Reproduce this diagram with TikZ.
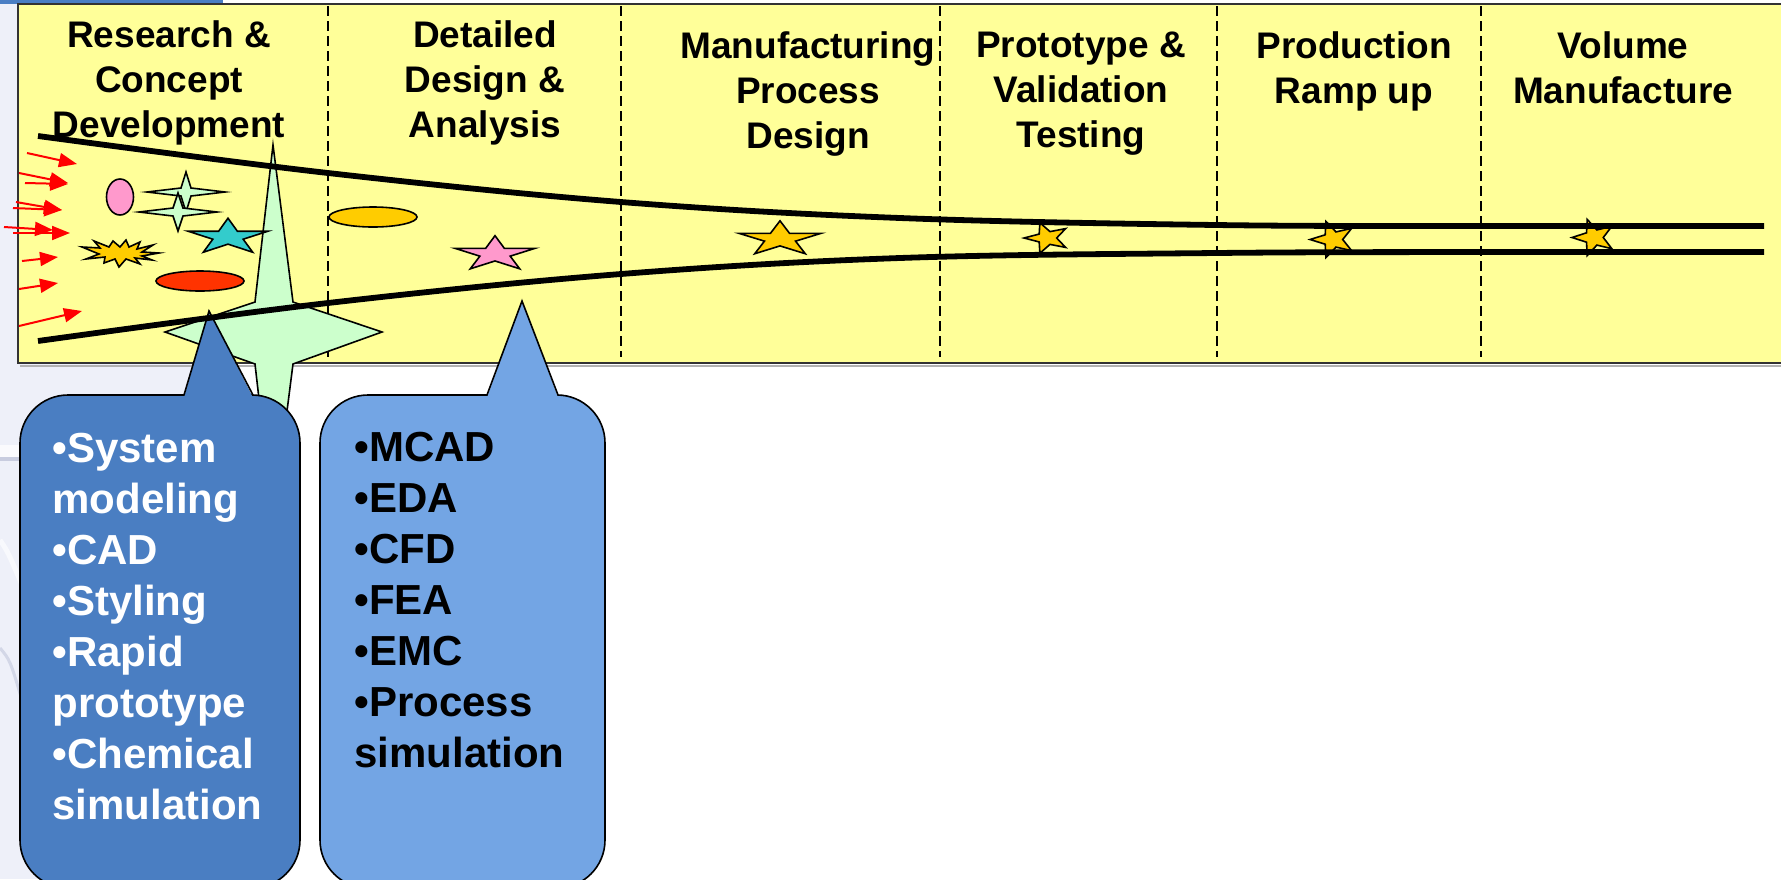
\documentclass[tikz,border=0pt]{standalone}
\usepackage{fontspec}
\setmainfont{Liberation Sans}
\usetikzlibrary{arrows.meta}
\definecolor{paneyellow}{HTML}{FFFF99}
\definecolor{slidebg}{HTML}{EEF0F9}
\definecolor{slidebar}{HTML}{4A7EC4}
\definecolor{swooshgray}{HTML}{C8CCDF}
\definecolor{callonefill}{RGB}{74,126,194}
\definecolor{calltwofill}{RGB}{115,165,228}
\definecolor{mint}{HTML}{CCFFCC}
\definecolor{pinkish}{HTML}{FF99CC}
\definecolor{tealstar}{HTML}{33CCCC}
\definecolor{goldish}{HTML}{FFCC00}
\definecolor{redorange}{HTML}{FF3300}
\newcommand\fivestar[6]{%
  \draw[#6, shift={(#1)}, rotate=#4] plot[samples at={0,...,9}, variable=\k]
   ({#2*(1-(1-#5)*mod(\k,2))*cos(-90+36*\k)}, {#3*(1-(1-#5)*mod(\k,2))*sin(-90+36*\k)}) -- cycle;}
\newcommand\fourstar[6]{%
  \draw[#6, shift={(#1)}] (0,-#3) -- (#4,-#5) -- (#2,0) -- (#4,#5) -- (0,#3) -- (-#4,#5) -- (-#2,0) -- (-#4,-#5) -- cycle;}
\begin{document}
\begin{tikzpicture}[x=0.5pt,y=-0.5pt,
  hdr/.style={font=\fontsize{18.5}{22.5}\selectfont\bfseries, align=center, anchor=north, inner sep=0pt},
  calltxt/.style={font=\fontsize{21}{25.5}\selectfont\bfseries, align=left, anchor=north west, inner sep=0pt},
  shapeline/.style={draw=black, line width=0.8pt, line join=miter},
  divider/.style={draw=black, line width=0.75pt, dash pattern=on 5pt off 2.5pt},
  funnel/.style={draw=black, line width=2.9pt},
  redarrow/.style={draw=red, line width=1pt, -{Triangle[length=9pt,width=7pt]}},
  callout/.style={draw=black, line width=0.8pt, rounded corners=24pt}]
\useasboundingbox (0,0) rectangle (1781,879);
\clip (0,0) rectangle (1781,879);
% slide background
\fill[white] (0,0) rectangle (1781,879);
\fill[slidebg] (0,0) rectangle (223,879);
\fill[slidebar] (0,0) rectangle (223,3.5);
\fill[white!70!slidebg] (0,445) rectangle (223,457);
\fill[swooshgray] (0,457) rectangle (223,461);
\draw[white!60!slidebg, line width=2.5pt] (0,540) .. controls (8,552) .. (22,585);
\draw[swooshgray!70!slidebg, line width=1.5pt] (0,648) .. controls (10,660) .. (22,700);
% yellow pane
\draw[gray!60, line width=1pt] (20,365.5) -- (1781,365.5);
\draw[fill=paneyellow, draw=black!80, line width=0.8pt] (18,4) rectangle (1800,363);
% dividers
\foreach \xd/\nm in {328/da,621/db,940/dc,1217/dd,1481/de}{
  \coordinate (\nm t) at (\xd,6);
  \coordinate (\nm b) at (\xd,357);
  \draw[divider] (\nm t) -- (\nm b);
}
% small shapes in the research phase
\draw[shapeline, fill=pinkish] (120,197) ellipse [x radius=13.5, y radius=18];
\fourstar{186,192}{39}{20}{5}{4}{shapeline, fill=mint}
\fourstar{178,212}{39}{19}{5}{4}{shapeline, fill=mint}
\draw[shapeline, fill=goldish, shift={(120,253)}] (-38,-6) -- (-20,-5) -- (-26,-12) -- (-11,-6) -- (-7,-12) -- (0,-6) -- (6,-13) -- (9,-6) -- (20,-11) -- (17,-4) -- (33,-8) -- (22,-1) -- (39,0) -- (22,3) -- (32,7) -- (15,5) -- (20,11) -- (6,6) -- (-1,14) -- (-5,6) -- (-16,10) -- (-15,4) -- (-34,6) -- (-21,1) -- cycle;
\draw[shapeline, fill=redorange] (200,281) ellipse [x radius=44, y radius=10];
\draw[shapeline, fill=goldish] (373,217) ellipse [x radius=44, y radius=10];
% stars along the funnel
\fivestar{495,254}{42}{18.3}{0}{0.38}{shapeline, fill=pinkish}
\fivestar{780,239}{43}{18.2}{0}{0.38}{shapeline, fill=goldish}
\fivestar{1047,238}{16}{23}{90}{0.42}{shapeline, fill=goldish}
\fivestar{1333,239.5}{19}{23}{90}{0.42}{shapeline, fill=goldish}
\fivestar{1594,237.5}{19}{22}{90}{0.42}{shapeline, fill=goldish}
% big four-point star
\draw[shapeline, fill=mint] (273,145) -- (293,302) -- (382,332) -- (293,364) -- (273,521) -- (255,364) -- (165,332) -- (255,302) -- cycle;
\fivestar{228,237}{42}{18.8}{0}{0.38}{shapeline, fill=tealstar}
% red arrows
\foreach \ax/\ay/\bx/\by [count=\i] in {27/153/77/164, 19/173/68/183, 25/183/68/184, 16/202/62/210, 13/208/62/210, 4/227/53/230, 13/233/70/233, 22/261/58/257, 19/289/58/283, 19/326/82/311}{
  \coordinate (ar\i s) at (\ax,\ay);
  \coordinate (ar\i e) at (\bx,\by);
  \draw[redarrow] (ar\i s) -- (ar\i e);
}
% callout 1
\draw[callout, fill=callonefill] (20,395) rectangle (300,888);
\fill[callonefill] (184,397.5) -- (209,311) -- (253,397.5) -- cycle;
\draw[shapeline] (184,395) -- (209,311) -- (253,395);
% callout 2
\draw[callout, fill=calltwofill] (320,395) rectangle (605,888);
\fill[calltwofill] (487,397.5) -- (522,301) -- (558,397.5) -- cycle;
\draw[shapeline] (487,395) -- (522,301) -- (558,395);
% funnel curves
\draw[funnel] plot[smooth, tension=0.6] coordinates {(38,136) (328,173) (621,202) (900,218) (1216,225) (1481,226) (1764,226)};
\draw[funnel] plot[smooth, tension=0.6] coordinates {(38,341) (328,303) (621,274) (900,258) (1216,253) (1481,252) (1764,252)};
% headers
\node[hdr] (h1) at (169,20) {Research \&\\Concept\\Development};
\node[hdr] (h2) at (485,20) {Detailed\\Design \&\\Analysis};
\node[hdr] (h3) at (808,31) {Manufacturing\\Process\\Design};
\node[hdr] (h4) at (1081,31) {Prototype \&\\Validation\\Testing};
\node[hdr] (h5) at (1354,31) {Production\\Ramp up};
\node[hdr] (h6) at (1623,31) {Volume\\Manufacture};
% callout texts
\node[calltxt, text=white] (t1) at (52,433) {•System\\modeling\\•CAD\\•Styling\\•Rapid\\prototype\\•Chemical\\simulation};
\node[calltxt] (t2) at (354,432) {•MCAD\\•EDA\\•CFD\\•FEA\\•EMC\\•Process\\simulation};
\end{tikzpicture}
\end{document}
